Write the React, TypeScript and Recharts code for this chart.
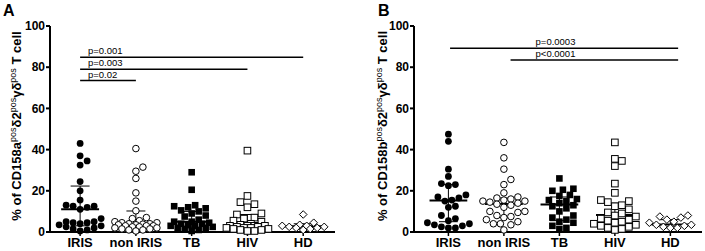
import { ScatterChart, Scatter, XAxis, YAxis, ReferenceLine, ReferenceDot } from "recharts"

const FONT = "'Liberation Sans', Arial, Helvetica, sans-serif"

const GROUPS = ["IRIS", "non IRIS", "TB", "HIV", "HD"]
const Y_TICKS = [0, 20, 40, 60, 80, 100]

// panel A – CD158a
const IRIS_A = [43, 37, 34.5, 32.5, 24.5, 20, 15.5, 13, 12.5, 12.5, 12, 11, 6.5, 5, 5, 4.5, 4.5, 4, 3.5, 3, 2.5, 2, 1.5, 1, 0.5]
const NON_IRIS_A = [40.5, 31.5, 29.5, 26, 19, 15, 10.3, 7, 6.5, 5.5, 5, 4.5, 4.5, 4, 4, 3.8, 3.5, 3.5, 3, 3, 3, 2.5, 2.5, 2, 2, 1.5, 1.5, 1, 1, 0.5]
const TB_A = [29, 20.5, 13, 12.5, 12, 11.5, 10.5, 10, 9, 8, 7.5, 6, 5, 5, 4.5, 4, 4, 3.5, 3, 3, 2.5, 2, 2, 1.5, 1, 0.5]
const HIV_A = [39.5, 17.5, 14.5, 13.5, 12, 9, 8.5, 7, 6.5, 5.5, 5, 4, 3.5, 3, 3, 3, 3, 2.5, 2.5, 2, 2, 2, 1.5, 1.5, 1, 1, 0.5, 0.5]
const HD_A = [8.5, 4.5, 3.5, 3, 3, 2.5, 2.5, 2, 2, 1.5, 1]
const MEDIAN_A = [11, 3.8, 5, 2.8, 2.8]
const Q1_A = [3, 1.5, 2, 1, 1.5]
const Q3_A = [22.3, 10.2, 10, 8.5, 4]
const PVAL_A = [
  { label: "p=0.001", from: 1, to: 5, y: 84.8 },
  { label: "p=0.003", from: 1, to: 4, y: 79 },
  { label: "p=0.02", from: 1, to: 2, y: 73.5 },
]

// panel B – CD158b
const IRIS_B = [47.5, 44, 30.5, 27, 23.5, 23, 22.5, 18, 17, 16.5, 15.5, 15, 12.5, 12, 8, 6.5, 5.5, 4.5, 4, 3.5, 3, 2.5, 2, 2]
const NON_IRIS_B = [43.5, 36, 30.5, 25.5, 23, 19, 17, 16.5, 16, 15.5, 15, 15, 14.5, 14, 13.5, 13, 12, 10, 10, 9.5, 8, 7.5, 7, 6, 5, 4, 4, 3.5, 1]
const TB_B = [26, 21, 20.5, 20, 18, 17.5, 16, 15.5, 15, 14, 13, 12.5, 11.5, 10, 8, 7, 6, 5, 4.5, 3, 2, 1.5]
const HIV_B = [43.5, 35.5, 34.5, 32, 23.5, 19, 15.5, 15, 14.5, 13, 12.5, 11, 9.5, 9, 8, 7.5, 6.5, 6, 5.5, 5, 4.5, 4, 3.5, 3, 2.5, 2, 1.5, 1]
const HD_B = [8, 7.5, 7, 6, 5, 4.5, 3.5, 3.5, 3, 2.5, 2, 2]
const MEDIAN_B = [15.3, 13.6, 13.4, 8.2, 3.7]
const Q1_B = [5, 7, 5.5, 4.5, 2.5]
const Q3_B = [23, 16.5, 17, 14, 6]
const PVAL_B = [
  { label: "p=0.0003", from: 1.03, to: 5.14, y: 89.2 },
  { label: "p<0.0001", from: 2.12, to: 5.14, y: 83.5 },
]

// simple beeswarm: spread overlapping points sideways, within a limited width
function swarm(values: number[], pxX: number, pxY: number) {
  const STEP = 3.5
  const MIN_DIST = 7
  const MAX_K = 12 // about +-21px
  const placed: { x: number; y: number }[] = []
  const order = values.map((_, i) => i).sort((a, b) => values[a] - values[b])
  const off = new Array(values.length).fill(0)
  for (const i of order) {
    const y = values[i] * pxY
    let best = 0
    let bestGap = -1
    for (let k = 0; k <= MAX_K; k++) {
      const cand = (k % 2 === 1 ? 1 : -1) * Math.ceil(k / 2) * STEP
      const gap = placed.reduce((m, p) => Math.min(m, Math.hypot(p.x - cand, p.y - y)), Infinity)
      if (gap >= MIN_DIST) { best = cand; break }
      if (gap > bestGap) { bestGap = gap; best = cand }
    }
    placed.push({ x: best, y })
    off[i] = best / pxX
  }
  return off
}

type MarkerProps = { cx?: number; cy?: number }
const MARKERS = [
  ({ cx = 0, cy = 0 }: MarkerProps) => <circle cx={cx} cy={cy} r={3.4} fill="#000" />,
  ({ cx = 0, cy = 0 }: MarkerProps) => <circle cx={cx} cy={cy} r={3.3} fill="#fff" stroke="#000" strokeWidth={1} />,
  ({ cx = 0, cy = 0 }: MarkerProps) => <rect x={cx - 3.3} y={cy - 3.3} width={6.6} height={6.6} fill="#000" />,
  ({ cx = 0, cy = 0 }: MarkerProps) => <rect x={cx - 3.3} y={cy - 3.3} width={6.6} height={6.6} fill="#fff" stroke="#000" strokeWidth={1} />,
  ({ cx = 0, cy = 0 }: MarkerProps) => (
    <polygon points={`${cx},${cy - 3.8} ${cx + 3.8},${cy} ${cx},${cy + 3.8} ${cx - 3.8},${cy}`} fill="#fff" stroke="#000" strokeWidth={1} />
  ),
]

type PVal = { label: string; from: number; to: number; y: number }

function Panel(props: {
  left: number; width: number; yAxisWidth: number; marginRight: number; domain: [number, number]
  groups: number[][]; median: number[]; q1: number[]; q3: number[]; pvals: PVal[]
  letter: string; marker: string; letterX: number; titleX: number; centerText: boolean
}) {
  const { left, width, yAxisWidth, marginRight, domain, groups, median, q1, q3, pvals } = props
  const plotW = width - yAxisWidth - marginRight
  const pxX = plotW / (domain[1] - domain[0])
  const pxY = 206 / 100
  const series = groups.map((vals, g) => {
    const off = swarm(vals, pxX, pxY)
    return vals.map((v, i) => ({ x: g + 1 + off[i], y: v }))
  })
  const tickStyle = { fill: "#000", fontFamily: FONT, fontWeight: "bold" as const }

  return (
    <div style={{ position: "absolute", left, top: 0, width, height: 251 }}>
      <ScatterChart width={width} height={251} margin={{ top: 26, right: marginRight, bottom: 0, left: 0 }}>
        <XAxis
          type="number" dataKey="x" domain={domain} allowDataOverflow ticks={[1, 2, 3, 4, 5]} interval={0}
          tickFormatter={(v: number) => GROUPS[v - 1]} height={19} tickSize={4} tickMargin={2}
          axisLine={{ stroke: "#000", strokeWidth: 2 }} tickLine={{ stroke: "#000", strokeWidth: 1.5 }}
          tick={{ ...tickStyle, fontSize: 13 }}
        />
        <YAxis
          type="number" dataKey="y" domain={[0, 100]} ticks={Y_TICKS} width={yAxisWidth} tickSize={4} tickMargin={1}
          axisLine={{ stroke: "#000", strokeWidth: 2 }} tickLine={{ stroke: "#000", strokeWidth: 2 }}
          tick={{ ...tickStyle, fontSize: 12 }}
        />
        {series.map((data, g) => (
          <Scatter key={GROUPS[g]} data={data} shape={MARKERS[g]} isAnimationActive={false} />
        ))}
        {median.map((m, g) => (
          <ReferenceLine key={`m${g}`} segment={[{ x: g + 0.66, y: m }, { x: g + 1.34, y: m }]} stroke="#000" strokeWidth={2} ifOverflow="visible" />
        ))}
        {q1.map((lo, g) => (
          <ReferenceLine key={`v${g}`} segment={[{ x: g + 1, y: lo }, { x: g + 1, y: q3[g] }]} stroke="#000" strokeWidth={1} ifOverflow="visible" />
        ))}
        {q1.map((lo, g) => (
          <ReferenceLine key={`l${g}`} segment={[{ x: g + 0.83, y: lo }, { x: g + 1.17, y: lo }]} stroke="#000" strokeWidth={1} ifOverflow="visible" />
        ))}
        {q3.map((hi, g) => (
          <ReferenceLine key={`h${g}`} segment={[{ x: g + 0.83, y: hi }, { x: g + 1.17, y: hi }]} stroke="#000" strokeWidth={1} ifOverflow="visible" />
        ))}
        {pvals.map(p => (
          <ReferenceLine key={p.label} segment={[{ x: p.from, y: p.y }, { x: p.to, y: p.y }]} stroke="#000" strokeWidth={1.5} ifOverflow="visible" />
        ))}
        {pvals.map(p => (
          <ReferenceDot
            key={`t${p.label}`} x={props.centerText ? 2.93 : p.from + 0.14} y={p.y + 1.5} r={0} ifOverflow="visible"
            shape={(s: MarkerProps) => (
              <text x={s.cx} y={s.cy} fontFamily={FONT} fontSize={9.5} fill="#000" textAnchor={props.centerText ? "middle" : "start"}>{p.label}</text>
            )}
          />
        ))}
      </ScatterChart>
      <svg width={60} height={251} style={{ position: "absolute", left: 0, top: 0, pointerEvents: "none" }}>
        <text x={props.letterX} y={16} fontFamily={FONT} fontWeight="bold" fontSize={16} fill="#000">{props.letter}</text>
        <text transform={`translate(${props.titleX},126) rotate(-90)`} textAnchor="middle" fontFamily={FONT} fontWeight="bold" fontSize={13} fill="#000">
          {`% of ${props.marker}`}
          <tspan dy={-5} fontSize={9} fontWeight="normal">pos</tspan>
          <tspan dy={5}>δ2</tspan>
          <tspan dy={-5} fontSize={9} fontWeight="normal">pos</tspan>
          <tspan dy={5}>γδ</tspan>
          <tspan dy={-5} fontSize={9} fontWeight="normal">pos</tspan>
          <tspan dy={5}> T cell</tspan>
        </text>
      </svg>
    </div>
  )
}

export default function App() {
  return (
    <div style={{ position: "fixed", left: 0, top: 0, width: 705, height: 251, background: "#fff" }}>
      <Panel
        left={0} width={352} yAxisWidth={50} marginRight={17} domain={[0.46, 5.57]}
        groups={[IRIS_A, NON_IRIS_A, TB_A, HIV_A, HD_A]} median={MEDIAN_A} q1={Q1_A} q3={Q3_A} pvals={PVAL_A}
        letter="A" marker="CD158a" letterX={3} titleX={21} centerText={false}
      />
      <Panel
        left={355} width={350} yAxisWidth={59} marginRight={3} domain={[0.38, 5.57]}
        groups={[IRIS_B, NON_IRIS_B, TB_B, HIV_B, HD_B]} median={MEDIAN_B} q1={Q1_B} q3={Q3_B} pvals={PVAL_B}
        letter="B" marker="CD158b" letterX={23} titleX={32} centerText={true}
      />
    </div>
  )
}
